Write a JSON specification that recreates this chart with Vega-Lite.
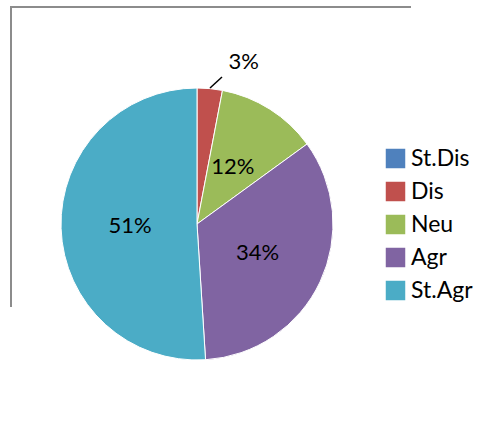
{
  "$schema": "https://vega.github.io/schema/vega-lite/v6.json",
  "width": 475,
  "height": 429,
  "autosize": {"type": "none"},
  "padding": {"left": 11, "top": 7, "right": 0, "bottom": 0},
  "background": "white",
  "config": {
    "view": {"stroke": null},
    "font": "Lato"
  },
  "layer": [
    {
      "data": {"values": [{}]},
      "mark": {"type": "rule", "stroke": "#8c8c8c", "strokeWidth": 2},
      "encoding": {"x": {"value": -1}, "x2": {"value": 400}, "y": {"value": 0}, "y2": {"value": 0}}
    },
    {
      "data": {"values": [{}]},
      "mark": {"type": "rule", "stroke": "#8c8c8c", "strokeWidth": 2},
      "encoding": {"x": {"value": 0}, "x2": {"value": 0}, "y": {"value": 0}, "y2": {"value": 300}}
    },
    {
      "data": {"name": "main", "values": [
        {"cat": "St.Dis", "pct": 0, "o": 1, "label": ""},
        {"cat": "Dis", "pct": 3, "o": 2, "label": "3%"},
        {"cat": "Neu", "pct": 12, "o": 3, "label": "12%"},
        {"cat": "Agr", "pct": 34, "o": 4, "label": "34%"},
        {"cat": "St.Agr", "pct": 51, "o": 5, "label": "51%"}
      ]},
      "encoding": {
        "theta": {"field": "pct", "type": "quantitative", "stack": true},
        "order": {"field": "o", "type": "quantitative"}
      },
      "layer": [
        {
          "mark": {"type": "arc", "x": 186, "y": 217, "outerRadius": 136, "stroke": "white", "strokeWidth": 1},
          "encoding": {
            "color": {
              "field": "cat",
              "type": "nominal",
              "sort": ["St.Dis", "Dis", "Neu", "Agr", "St.Agr"],
              "scale": {
                "domain": ["St.Dis", "Dis", "Neu", "Agr", "St.Agr"],
                "range": ["#4F81BD", "#C0504D", "#9BBB59", "#8064A2", "#4BACC6"]
              },
              "legend": {
                "title": null,
                "orient": "none",
                "legendX": 373,
                "legendY": 140,
                "symbolType": "square",
                "symbolSize": 380,
                "symbolStrokeWidth": 0,
                "labelFontSize": 23,
                "labelFont": "Lato",
                "labelColor": "#000000",
                "labelOffset": 4,
                "rowPadding": 9,
                "labelLimit": 200
              }
            }
          }
        },
        {
          "mark": {"type": "text", "x": 186, "y": 217, "radius": 67, "fontSize": 22, "color": "#000000"},
          "encoding": {
            "text": {"condition": {"test": "datum.pct > 5", "field": "label"}, "value": ""}
          }
        },
        {
          "mark": {"type": "text", "x": 186, "y": 217, "radius": 168, "dx": 31, "dy": 5, "fontSize": 22, "color": "#000000"},
          "encoding": {
            "text": {"condition": {"test": "datum.cat === 'Dis'", "field": "label"}, "value": ""}
          }
        }
      ]
    },
    {
      "data": {"values": [{}]},
      "mark": {"type": "rule", "stroke": "#000000", "strokeWidth": 1.5},
      "encoding": {"x": {"value": 199}, "y": {"value": 81}, "x2": {"value": 211}, "y2": {"value": 70}}
    }
  ]
}
